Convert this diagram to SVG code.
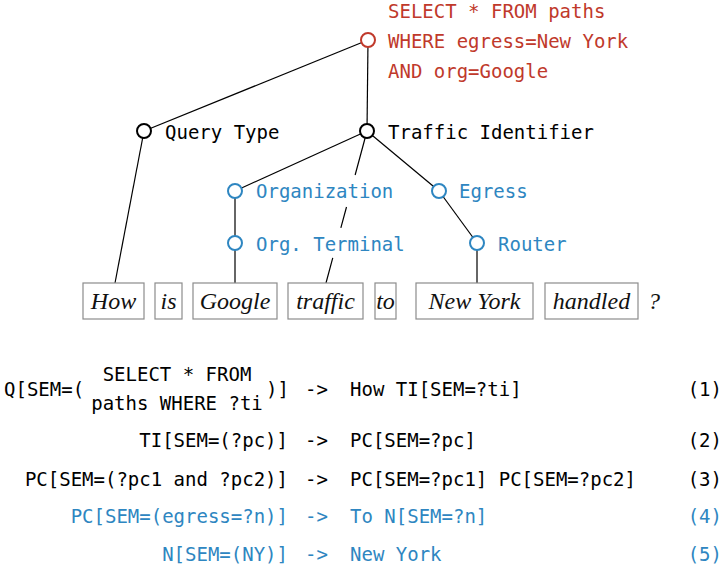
<svg xmlns="http://www.w3.org/2000/svg" width="725" height="569" viewBox="0 0 725 569">
  <style>
    .mono { font-family: "DejaVu Sans Mono", "Liberation Mono", monospace; font-size: 19px; }
    .word { font-family: "Liberation Serif", "DejaVu Serif", serif; font-style: italic; font-size: 24px; text-anchor: middle; fill: #111; }
    .blk { fill: #000; }
    .red { fill: #c0392b; }
    .blue { fill: #2e86c1; }
    .node-blk { fill: #fff; stroke: #000; stroke-width: 2; }
    .node-red { fill: #fff; stroke: #c0392b; stroke-width: 2; }
    .node-blue { fill: #fff; stroke: #2e86c1; stroke-width: 2; }
    .edge { stroke: #000; stroke-width: 1.2; fill: none; }
    .lex { stroke: #666; stroke-width: 2; fill: none; }
    .box { fill: #fff; stroke: #8c8c8c; stroke-width: 1.2; }
    .end { text-anchor: end; }
  </style>

  <!-- tree edges -->
  <g id="connectors">
    <line class="edge" x1="368" y1="40" x2="144" y2="131"/>
    <line class="edge" x1="368" y1="40" x2="367" y2="131"/>
    <line class="edge" x1="144" y1="131" x2="115" y2="283"/>
    <line class="edge" x1="367" y1="131" x2="235" y2="191"/>
    <line class="edge" x1="367" y1="131" x2="439" y2="191"/>
    <!-- interrupted where it crosses the blue labels -->
    <line class="edge" x1="367" y1="131" x2="326" y2="283" stroke-dasharray="45.6 33.1 21.7 31.1 30"/>
    <line class="lex" x1="235" y1="191" x2="235" y2="243"/>
    <line class="lex" x1="235" y1="243" x2="235" y2="283"/>
    <line class="edge" x1="439" y1="191" x2="477" y2="243"/>
    <line class="lex" x1="477" y1="243" x2="477" y2="283"/>
  </g>

  <!-- tree nodes -->
  <g id="root">
    <circle class="node-red" cx="368" cy="40" r="7"/>
    <text class="mono red" x="388" y="18">SELECT * FROM paths</text>
    <text class="mono red" x="388" y="48">WHERE egress=New York</text>
    <text class="mono red" x="388" y="78">AND org=Google</text>
  </g>
  <g id="query-type">
    <circle class="node-blk" cx="144" cy="131" r="7"/>
    <text class="mono blk" x="165" y="139">Query Type</text>
  </g>
  <g id="traffic-identifier">
    <circle class="node-blk" cx="367" cy="131" r="7"/>
    <text class="mono blk" x="388" y="139">Traffic Identifier</text>
  </g>
  <g id="organization">
    <circle class="node-blue" cx="235" cy="191" r="7"/>
    <text class="mono blue" x="256" y="198">Organization</text>
  </g>
  <g id="org-terminal">
    <circle class="node-blue" cx="235" cy="243" r="7"/>
    <text class="mono blue" x="256" y="251">Org. Terminal</text>
  </g>
  <g id="egress">
    <circle class="node-blue" cx="439" cy="191" r="7"/>
    <text class="mono blue" x="459" y="198">Egress</text>
  </g>
  <g id="router">
    <circle class="node-blue" cx="477" cy="243" r="7"/>
    <text class="mono blue" x="498" y="251">Router</text>
  </g>

  <!-- sentence tokens -->
  <g id="w-how"><rect class="box" x="83" y="283" width="61" height="36"/><text class="word" x="113.5" y="309">How</text></g>
  <g id="w-is"><rect class="box" x="155" y="283" width="27" height="36"/><text class="word" x="168.5" y="309">is</text></g>
  <g id="w-google"><rect class="box" x="193" y="283" width="84" height="36"/><text class="word" x="235" y="309">Google</text></g>
  <g id="w-traffic"><rect class="box" x="288" y="283" width="75" height="36"/><text class="word" x="325.5" y="309">traffic</text></g>
  <g id="w-to"><rect class="box" x="375" y="283" width="21" height="36"/><text class="word" x="385.5" y="309">to</text></g>
  <g id="w-newyork"><rect class="box" x="416" y="283" width="117" height="36"/><text class="word" x="474.5" y="309">New York</text></g>
  <g id="w-handled"><rect class="box" x="545" y="283" width="93" height="36"/><text class="word" x="591.5" y="309">handled</text></g>
  <text class="word" x="654" y="309">?</text>

  <!-- grammar rules -->
  <g id="rules">
    <text class="mono blk" x="4" y="396">Q[SEM=(</text>
    <text class="mono blk" x="177" y="381" text-anchor="middle">SELECT * FROM</text>
    <text class="mono blk" x="177" y="410" text-anchor="middle">paths WHERE ?ti</text>
    <text class="mono blk" x="266" y="396">)]</text>
    <text class="mono blk" x="305" y="396">-&gt;</text>
    <text class="mono blk" x="350" y="396">How TI[SEM=?ti]</text>
    <text class="mono blk end" x="722" y="396">(1)</text>

    <text class="mono blk end" x="288" y="447">TI[SEM=(?pc)]</text>
    <text class="mono blk" x="305" y="447">-&gt;</text>
    <text class="mono blk" x="350" y="447">PC[SEM=?pc]</text>
    <text class="mono blk end" x="722" y="447">(2)</text>

    <text class="mono blk end" x="288" y="486">PC[SEM=(?pc1 and ?pc2)]</text>
    <text class="mono blk" x="305" y="486">-&gt;</text>
    <text class="mono blk" x="350" y="486">PC[SEM=?pc1] PC[SEM=?pc2]</text>
    <text class="mono blk end" x="722" y="486">(3)</text>

    <text class="mono blue end" x="288" y="523">PC[SEM=(egress=?n)]</text>
    <text class="mono blue" x="305" y="523">-&gt;</text>
    <text class="mono blue" x="350" y="523">To N[SEM=?n]</text>
    <text class="mono blue end" x="722" y="523">(4)</text>

    <text class="mono blue end" x="288" y="561">N[SEM=(NY)]</text>
    <text class="mono blue" x="305" y="561">-&gt;</text>
    <text class="mono blue" x="350" y="561">New York</text>
    <text class="mono blue end" x="722" y="561">(5)</text>
  </g>
</svg>
